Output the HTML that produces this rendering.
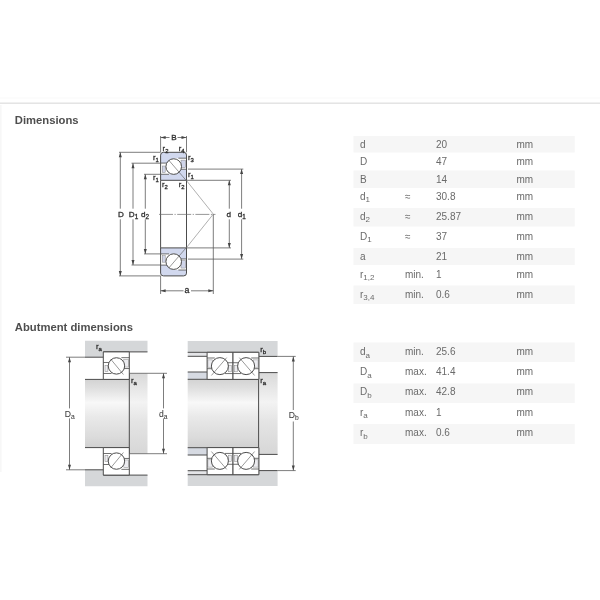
<!DOCTYPE html><html><head><meta charset="utf-8"><style>html,body{margin:0;padding:0;background:#fff;width:600px;height:600px;overflow:hidden}svg{display:block;filter:blur(0.35px)}</style></head><body><svg width="600" height="600" viewBox="0 0 600 600"><defs><linearGradient id="shaft" x1="0" y1="0" x2="0" y2="1"><stop offset="0" stop-color="#d3d3d3"/><stop offset="0.12" stop-color="#dedede"/><stop offset="0.34" stop-color="#f8f8f8"/><stop offset="0.55" stop-color="#e9e9e9"/><stop offset="0.85" stop-color="#dbdbdb"/><stop offset="1" stop-color="#d0d0d0"/></linearGradient><linearGradient id="shoul" x1="0" y1="0" x2="0" y2="1"><stop offset="0" stop-color="#d9d9d9"/><stop offset="0.36" stop-color="#f3f3f3"/><stop offset="0.6" stop-color="#e4e4e4"/><stop offset="1" stop-color="#d7d7d7"/></linearGradient></defs><rect x="0" y="102.6" width="600" height="1.1" fill="#d9d9d9"/><rect x="0" y="97.5" width="600" height="1" fill="#fafafa"/><rect x="0" y="105" width="1.6" height="367" fill="#f7f7f7"/><text x="14.8" y="124.3" font-family="Liberation Sans, sans-serif" font-size="11.25" font-weight="bold" fill="#4e4e4e">Dimensions</text><text x="14.8" y="331.3" font-family="Liberation Sans, sans-serif" font-size="11.25" font-weight="bold" fill="#4e4e4e">Abutment dimensions</text><rect x="353.5" y="136" width="221.20000000000005" height="16.5" fill="#f6f6f6"/><text x="360" y="147.5" font-family="Liberation Sans, sans-serif" font-size="10" fill="#6a6a6a">d</text><text x="436" y="147.5" font-family="Liberation Sans, sans-serif" font-size="10" fill="#6a6a6a">20</text><text x="516.5" y="147.5" font-family="Liberation Sans, sans-serif" font-size="10" fill="#6a6a6a">mm</text><text x="360" y="165" font-family="Liberation Sans, sans-serif" font-size="10" fill="#6a6a6a">D</text><text x="436" y="165" font-family="Liberation Sans, sans-serif" font-size="10" fill="#6a6a6a">47</text><text x="516.5" y="165" font-family="Liberation Sans, sans-serif" font-size="10" fill="#6a6a6a">mm</text><rect x="353.5" y="170.5" width="221.20000000000005" height="17.5" fill="#f6f6f6"/><text x="360" y="182.5" font-family="Liberation Sans, sans-serif" font-size="10" fill="#6a6a6a">B</text><text x="436" y="182.5" font-family="Liberation Sans, sans-serif" font-size="10" fill="#6a6a6a">14</text><text x="516.5" y="182.5" font-family="Liberation Sans, sans-serif" font-size="10" fill="#6a6a6a">mm</text><text x="360" y="199.5" font-family="Liberation Sans, sans-serif" font-size="10" fill="#6a6a6a">d<tspan font-size="8" dy="2.5">1</tspan></text><text x="405" y="199.5" font-family="Liberation Sans, sans-serif" font-size="10" fill="#6a6a6a">≈</text><text x="436" y="199.5" font-family="Liberation Sans, sans-serif" font-size="10" fill="#6a6a6a">30.8</text><text x="516.5" y="199.5" font-family="Liberation Sans, sans-serif" font-size="10" fill="#6a6a6a">mm</text><rect x="353.5" y="208" width="221.20000000000005" height="18.5" fill="#f6f6f6"/><text x="360" y="219.5" font-family="Liberation Sans, sans-serif" font-size="10" fill="#6a6a6a">d<tspan font-size="8" dy="2.5">2</tspan></text><text x="405" y="219.5" font-family="Liberation Sans, sans-serif" font-size="10" fill="#6a6a6a">≈</text><text x="436" y="219.5" font-family="Liberation Sans, sans-serif" font-size="10" fill="#6a6a6a">25.87</text><text x="516.5" y="219.5" font-family="Liberation Sans, sans-serif" font-size="10" fill="#6a6a6a">mm</text><text x="360" y="239.5" font-family="Liberation Sans, sans-serif" font-size="10" fill="#6a6a6a">D<tspan font-size="8" dy="2.5">1</tspan></text><text x="405" y="239.5" font-family="Liberation Sans, sans-serif" font-size="10" fill="#6a6a6a">≈</text><text x="436" y="239.5" font-family="Liberation Sans, sans-serif" font-size="10" fill="#6a6a6a">37</text><text x="516.5" y="239.5" font-family="Liberation Sans, sans-serif" font-size="10" fill="#6a6a6a">mm</text><rect x="353.5" y="248" width="221.20000000000005" height="17" fill="#f6f6f6"/><text x="360" y="259.5" font-family="Liberation Sans, sans-serif" font-size="10" fill="#6a6a6a">a</text><text x="436" y="259.5" font-family="Liberation Sans, sans-serif" font-size="10" fill="#6a6a6a">21</text><text x="516.5" y="259.5" font-family="Liberation Sans, sans-serif" font-size="10" fill="#6a6a6a">mm</text><text x="360" y="277.5" font-family="Liberation Sans, sans-serif" font-size="10" fill="#6a6a6a">r<tspan font-size="8" dy="2.5">1,2</tspan></text><text x="405" y="277.5" font-family="Liberation Sans, sans-serif" font-size="10" fill="#6a6a6a">min.</text><text x="436" y="277.5" font-family="Liberation Sans, sans-serif" font-size="10" fill="#6a6a6a">1</text><text x="516.5" y="277.5" font-family="Liberation Sans, sans-serif" font-size="10" fill="#6a6a6a">mm</text><rect x="353.5" y="285.5" width="221.20000000000005" height="18.5" fill="#f6f6f6"/><text x="360" y="297.5" font-family="Liberation Sans, sans-serif" font-size="10" fill="#6a6a6a">r<tspan font-size="8" dy="2.5">3,4</tspan></text><text x="405" y="297.5" font-family="Liberation Sans, sans-serif" font-size="10" fill="#6a6a6a">min.</text><text x="436" y="297.5" font-family="Liberation Sans, sans-serif" font-size="10" fill="#6a6a6a">0.6</text><text x="516.5" y="297.5" font-family="Liberation Sans, sans-serif" font-size="10" fill="#6a6a6a">mm</text><rect x="353.5" y="342.5" width="221.20000000000005" height="19.5" fill="#f6f6f6"/><text x="360" y="355" font-family="Liberation Sans, sans-serif" font-size="10" fill="#6a6a6a">d<tspan font-size="8" dy="2.5">a</tspan></text><text x="405" y="355" font-family="Liberation Sans, sans-serif" font-size="10" fill="#6a6a6a">min.</text><text x="436" y="355" font-family="Liberation Sans, sans-serif" font-size="10" fill="#6a6a6a">25.6</text><text x="516.5" y="355" font-family="Liberation Sans, sans-serif" font-size="10" fill="#6a6a6a">mm</text><text x="360" y="375" font-family="Liberation Sans, sans-serif" font-size="10" fill="#6a6a6a">D<tspan font-size="8" dy="2.5">a</tspan></text><text x="405" y="375" font-family="Liberation Sans, sans-serif" font-size="10" fill="#6a6a6a">max.</text><text x="436" y="375" font-family="Liberation Sans, sans-serif" font-size="10" fill="#6a6a6a">41.4</text><text x="516.5" y="375" font-family="Liberation Sans, sans-serif" font-size="10" fill="#6a6a6a">mm</text><rect x="353.5" y="383.5" width="221.20000000000005" height="19.5" fill="#f6f6f6"/><text x="360" y="395" font-family="Liberation Sans, sans-serif" font-size="10" fill="#6a6a6a">D<tspan font-size="8" dy="2.5">b</tspan></text><text x="405" y="395" font-family="Liberation Sans, sans-serif" font-size="10" fill="#6a6a6a">max.</text><text x="436" y="395" font-family="Liberation Sans, sans-serif" font-size="10" fill="#6a6a6a">42.8</text><text x="516.5" y="395" font-family="Liberation Sans, sans-serif" font-size="10" fill="#6a6a6a">mm</text><text x="360" y="415.5" font-family="Liberation Sans, sans-serif" font-size="10" fill="#6a6a6a">r<tspan font-size="8" dy="2.5">a</tspan></text><text x="405" y="415.5" font-family="Liberation Sans, sans-serif" font-size="10" fill="#6a6a6a">max.</text><text x="436" y="415.5" font-family="Liberation Sans, sans-serif" font-size="10" fill="#6a6a6a">1</text><text x="516.5" y="415.5" font-family="Liberation Sans, sans-serif" font-size="10" fill="#6a6a6a">mm</text><rect x="353.5" y="424" width="221.20000000000005" height="20" fill="#f6f6f6"/><text x="360" y="436" font-family="Liberation Sans, sans-serif" font-size="10" fill="#6a6a6a">r<tspan font-size="8" dy="2.5">b</tspan></text><text x="405" y="436" font-family="Liberation Sans, sans-serif" font-size="10" fill="#6a6a6a">max.</text><text x="436" y="436" font-family="Liberation Sans, sans-serif" font-size="10" fill="#6a6a6a">0.6</text><text x="516.5" y="436" font-family="Liberation Sans, sans-serif" font-size="10" fill="#6a6a6a">mm</text><g><path d="M160.6,180.3 V155.10000000000002 Q160.6,152.3 163.4,152.3 H183.7 Q186.5,152.3 186.5,155.10000000000002 V180.3 Z" fill="#d1d8ee"/><rect x="160.6" y="163.08" width="13.105400000000003" height="11.199999999999989" fill="#fff"/><rect x="173.7054" y="158.18" width="12.794600000000003" height="11.060000000000002" fill="#fff"/><rect x="162.30" y="166.02" width="2.9" height="6.44" fill="#d0d5ea" stroke="#888" stroke-width="0.5"/><rect x="181.00" y="160.14" width="4.7" height="7.56" fill="#d0d5ea" stroke="#888" stroke-width="0.5"/><line x1="160.60" y1="163.08" x2="167.47" y2="163.08" stroke="#4c4c4c" stroke-width="0.8"/><line x1="178.39" y1="158.18" x2="186.50" y2="158.18" stroke="#4c4c4c" stroke-width="0.8"/><line x1="160.60" y1="174.28" x2="169.03" y2="174.28" stroke="#4c4c4c" stroke-width="0.8"/><line x1="179.95" y1="169.24" x2="186.50" y2="169.24" stroke="#4c4c4c" stroke-width="0.8"/><circle cx="173.71" cy="166.58" r="7.8" fill="#fff" stroke="#4c4c4c" stroke-width="1"/><line x1="168.71" y1="160.11" x2="185.70" y2="179.90" stroke="#555" stroke-width="0.6"/><path d="M160.6,180.3 V155.10000000000002 Q160.6,152.3 163.4,152.3 H183.7 Q186.5,152.3 186.5,155.10000000000002 V180.3 Z" fill="none" stroke="#4c4c4c" stroke-width="1"/></g><g transform="matrix(1,0,0,-1,0,428.2)"><path d="M160.6,180.3 V155.10000000000002 Q160.6,152.3 163.4,152.3 H183.7 Q186.5,152.3 186.5,155.10000000000002 V180.3 Z" fill="#d1d8ee"/><rect x="160.6" y="163.08" width="13.105400000000003" height="11.199999999999989" fill="#fff"/><rect x="173.7054" y="158.18" width="12.794600000000003" height="11.060000000000002" fill="#fff"/><rect x="162.30" y="166.02" width="2.9" height="6.44" fill="#d0d5ea" stroke="#888" stroke-width="0.5"/><rect x="181.00" y="160.14" width="4.7" height="7.56" fill="#d0d5ea" stroke="#888" stroke-width="0.5"/><line x1="160.60" y1="163.08" x2="167.47" y2="163.08" stroke="#4c4c4c" stroke-width="0.8"/><line x1="178.39" y1="158.18" x2="186.50" y2="158.18" stroke="#4c4c4c" stroke-width="0.8"/><line x1="160.60" y1="174.28" x2="169.03" y2="174.28" stroke="#4c4c4c" stroke-width="0.8"/><line x1="179.95" y1="169.24" x2="186.50" y2="169.24" stroke="#4c4c4c" stroke-width="0.8"/><circle cx="173.71" cy="166.58" r="7.8" fill="#fff" stroke="#4c4c4c" stroke-width="1"/><line x1="168.71" y1="160.11" x2="185.70" y2="179.90" stroke="#555" stroke-width="0.6"/><path d="M160.6,180.3 V155.10000000000002 Q160.6,152.3 163.4,152.3 H183.7 Q186.5,152.3 186.5,155.10000000000002 V180.3 Z" fill="none" stroke="#4c4c4c" stroke-width="1"/></g><line x1="160.60" y1="180.30" x2="160.60" y2="247.90" stroke="#4c4c4c" stroke-width="1"/><line x1="186.50" y1="180.30" x2="186.50" y2="247.90" stroke="#4c4c4c" stroke-width="1"/><line x1="159" y1="214.4" x2="215.5" y2="214.4" stroke="#6a6a6a" stroke-width="0.7" stroke-dasharray="14 1.5 1.2 1.5"/><line x1="186.50" y1="180.60" x2="213.30" y2="214.10" stroke="#7a7a7a" stroke-width="0.6"/><line x1="186.50" y1="247.60" x2="213.30" y2="214.10" stroke="#7a7a7a" stroke-width="0.6"/><line x1="119.00" y1="152.30" x2="160.60" y2="152.30" stroke="#5c5c5c" stroke-width="0.8"/><line x1="119.00" y1="275.90" x2="160.60" y2="275.90" stroke="#5c5c5c" stroke-width="0.8"/><line x1="120.30" y1="152.30" x2="120.30" y2="208.70" stroke="#5c5c5c" stroke-width="0.8"/><line x1="120.30" y1="219.30" x2="120.30" y2="275.90" stroke="#5c5c5c" stroke-width="0.8"/><polygon points="120.30,152.30 118.80,157.30 121.80,157.30" fill="#444"/><polygon points="120.30,275.90 118.80,270.90 121.80,270.90" fill="#444"/><line x1="131.50" y1="163.20" x2="160.60" y2="163.20" stroke="#5c5c5c" stroke-width="0.8"/><line x1="131.50" y1="265.00" x2="160.60" y2="265.00" stroke="#5c5c5c" stroke-width="0.8"/><line x1="133.00" y1="163.20" x2="133.00" y2="208.70" stroke="#5c5c5c" stroke-width="0.8"/><line x1="133.00" y1="219.30" x2="133.00" y2="265.00" stroke="#5c5c5c" stroke-width="0.8"/><polygon points="133.00,163.20 131.50,168.20 134.50,168.20" fill="#444"/><polygon points="133.00,265.00 131.50,260.00 134.50,260.00" fill="#444"/><line x1="144.00" y1="174.30" x2="160.60" y2="174.30" stroke="#5c5c5c" stroke-width="0.8"/><line x1="144.00" y1="253.90" x2="160.60" y2="253.90" stroke="#5c5c5c" stroke-width="0.8"/><line x1="145.30" y1="174.30" x2="145.30" y2="208.70" stroke="#5c5c5c" stroke-width="0.8"/><line x1="145.30" y1="219.30" x2="145.30" y2="253.90" stroke="#5c5c5c" stroke-width="0.8"/><polygon points="145.30,174.30 143.80,179.30 146.80,179.30" fill="#444"/><polygon points="145.30,253.90 143.80,248.90 146.80,248.90" fill="#444"/><line x1="186.50" y1="180.30" x2="231.00" y2="180.30" stroke="#5c5c5c" stroke-width="0.8"/><line x1="186.50" y1="247.90" x2="231.00" y2="247.90" stroke="#5c5c5c" stroke-width="0.8"/><line x1="229.30" y1="180.30" x2="229.30" y2="208.70" stroke="#5c5c5c" stroke-width="0.8"/><line x1="229.30" y1="219.30" x2="229.30" y2="247.90" stroke="#5c5c5c" stroke-width="0.8"/><polygon points="229.30,180.30 227.80,185.30 230.80,185.30" fill="#444"/><polygon points="229.30,247.90 227.80,242.90 230.80,242.90" fill="#444"/><line x1="188.00" y1="169.10" x2="243.30" y2="169.10" stroke="#5c5c5c" stroke-width="0.8"/><line x1="188.00" y1="259.10" x2="243.30" y2="259.10" stroke="#5c5c5c" stroke-width="0.8"/><line x1="241.60" y1="169.10" x2="241.60" y2="208.70" stroke="#5c5c5c" stroke-width="0.8"/><line x1="241.60" y1="219.30" x2="241.60" y2="259.10" stroke="#5c5c5c" stroke-width="0.8"/><polygon points="241.60,169.10 240.10,174.10 243.10,174.10" fill="#444"/><polygon points="241.60,259.10 240.10,254.10 243.10,254.10" fill="#444"/><text x="118" y="216.7" font-family="Liberation Sans, sans-serif" font-size="8.1" fill="#2e2e2e" stroke="#2e2e2e" stroke-width="0.3">D</text><text x="128.8" y="216.7" font-family="Liberation Sans, sans-serif" font-size="8.1" fill="#2e2e2e" stroke="#2e2e2e" stroke-width="0.3">D<tspan font-size="6.32" dy="2">1</tspan></text><text x="141" y="216.7" font-family="Liberation Sans, sans-serif" font-size="8.1" fill="#2e2e2e" stroke="#2e2e2e" stroke-width="0.3">d<tspan font-size="6.32" dy="2">2</tspan></text><text x="226.5" y="217" font-family="Liberation Sans, sans-serif" font-size="8.1" fill="#2e2e2e" stroke="#2e2e2e" stroke-width="0.3">d</text><text x="237.8" y="217" font-family="Liberation Sans, sans-serif" font-size="8.1" fill="#2e2e2e" stroke="#2e2e2e" stroke-width="0.3">d<tspan font-size="6.32" dy="2">1</tspan></text><line x1="160.60" y1="136.00" x2="160.60" y2="152.30" stroke="#5c5c5c" stroke-width="0.8"/><line x1="186.50" y1="136.00" x2="186.50" y2="152.30" stroke="#5c5c5c" stroke-width="0.8"/><line x1="160.60" y1="137.50" x2="169.50" y2="137.50" stroke="#5c5c5c" stroke-width="0.8"/><line x1="177.50" y1="137.50" x2="186.50" y2="137.50" stroke="#5c5c5c" stroke-width="0.8"/><polygon points="160.60,137.50 165.60,136.00 165.60,139.00" fill="#444"/><polygon points="186.50,137.50 181.50,136.00 181.50,139.00" fill="#444"/><text x="171.3" y="140.1" font-family="Liberation Sans, sans-serif" font-size="8.1" fill="#2e2e2e" stroke="#2e2e2e" stroke-width="0.3">B</text><line x1="160.60" y1="275.90" x2="160.60" y2="294.00" stroke="#5c5c5c" stroke-width="0.8"/><line x1="213.30" y1="214.10" x2="213.30" y2="294.00" stroke="#5c5c5c" stroke-width="0.8"/><line x1="160.60" y1="290.80" x2="183.50" y2="290.80" stroke="#5c5c5c" stroke-width="0.8"/><line x1="191.00" y1="290.80" x2="213.30" y2="290.80" stroke="#5c5c5c" stroke-width="0.8"/><polygon points="160.60,290.80 165.60,289.30 165.60,292.30" fill="#444"/><polygon points="213.30,290.80 208.30,289.30 208.30,292.30" fill="#444"/><text x="184.5" y="292.6" font-family="Liberation Sans, sans-serif" font-size="8.8" fill="#2e2e2e" stroke="#2e2e2e" stroke-width="0.3">a</text><text x="162.6" y="150.5" font-family="Liberation Sans, sans-serif" font-size="7.6" fill="#2e2e2e" stroke="#2e2e2e" stroke-width="0.3">r<tspan font-size="5.93" dy="2">2</tspan></text><text x="178.8" y="150.5" font-family="Liberation Sans, sans-serif" font-size="7.6" fill="#2e2e2e" stroke="#2e2e2e" stroke-width="0.3">r<tspan font-size="5.93" dy="2">4</tspan></text><text x="153" y="160" font-family="Liberation Sans, sans-serif" font-size="7.6" fill="#2e2e2e" stroke="#2e2e2e" stroke-width="0.3">r<tspan font-size="5.93" dy="2">1</tspan></text><text x="188" y="160" font-family="Liberation Sans, sans-serif" font-size="7.6" fill="#2e2e2e" stroke="#2e2e2e" stroke-width="0.3">r<tspan font-size="5.93" dy="2">3</tspan></text><text x="153" y="180" font-family="Liberation Sans, sans-serif" font-size="7.6" fill="#2e2e2e" stroke="#2e2e2e" stroke-width="0.3">r<tspan font-size="5.93" dy="2">1</tspan></text><text x="188" y="176.8" font-family="Liberation Sans, sans-serif" font-size="7.6" fill="#2e2e2e" stroke="#2e2e2e" stroke-width="0.3">r<tspan font-size="5.93" dy="2">1</tspan></text><text x="162" y="186.5" font-family="Liberation Sans, sans-serif" font-size="7.6" fill="#2e2e2e" stroke="#2e2e2e" stroke-width="0.3">r<tspan font-size="5.93" dy="2">2</tspan></text><text x="178.8" y="186.5" font-family="Liberation Sans, sans-serif" font-size="7.6" fill="#2e2e2e" stroke="#2e2e2e" stroke-width="0.3">r<tspan font-size="5.93" dy="2">2</tspan></text><polygon points="85,340.8 147.5,340.8 147.5,351.9 103.3,351.9 103.3,357.2 85,357.2" fill="#d5d7d9"/><line x1="103.30" y1="351.90" x2="147.50" y2="351.90" stroke="#4c4c4c" stroke-width="1"/><line x1="85.00" y1="357.20" x2="103.30" y2="357.20" stroke="#4c4c4c" stroke-width="1"/><polygon points="85,486.2 147.5,486.2 147.5,475.1 103.3,475.1 103.3,469.8 85,469.8" fill="#d5d7d9"/><line x1="103.30" y1="475.10" x2="147.50" y2="475.10" stroke="#4c4c4c" stroke-width="1"/><line x1="85.00" y1="469.80" x2="103.30" y2="469.80" stroke="#4c4c4c" stroke-width="1"/><rect x="85" y="379.4" width="44.3" height="68.20000000000005" fill="url(#shaft)"/><rect x="129.3" y="373.3" width="18.2" height="80.39999999999998" fill="url(#shoul)"/><line x1="85.00" y1="379.40" x2="129.30" y2="379.40" stroke="#4c4c4c" stroke-width="1"/><line x1="85.00" y1="447.60" x2="129.30" y2="447.60" stroke="#4c4c4c" stroke-width="1"/><line x1="129.30" y1="373.30" x2="129.30" y2="453.70" stroke="#4c4c4c" stroke-width="1"/><line x1="129.30" y1="373.30" x2="167.00" y2="373.30" stroke="#5c5c5c" stroke-width="0.8"/><line x1="129.30" y1="453.70" x2="167.00" y2="453.70" stroke="#5c5c5c" stroke-width="0.8"/><g><path d="M103.3,379.4 V351.9 Q103.3,351.9 103.3,351.9 H129.3 Q129.3,351.9 129.3,351.9 V379.4 Z" fill="#fff"/><rect x="105.00" y="365.38" width="2.9" height="6.33" fill="#ececf0" stroke="#888" stroke-width="0.5"/><rect x="123.80" y="359.60" width="4.7" height="7.43" fill="#ececf0" stroke="#888" stroke-width="0.5"/><line x1="103.30" y1="362.49" x2="109.90" y2="362.49" stroke="#4c4c4c" stroke-width="0.8"/><line x1="121.38" y1="357.67" x2="129.30" y2="357.67" stroke="#4c4c4c" stroke-width="0.8"/><line x1="103.30" y1="373.49" x2="111.54" y2="373.49" stroke="#4c4c4c" stroke-width="0.8"/><line x1="123.02" y1="368.54" x2="129.30" y2="368.54" stroke="#4c4c4c" stroke-width="0.8"/><circle cx="116.46" cy="365.92" r="8.2" fill="#fff" stroke="#4c4c4c" stroke-width="1"/><line x1="110.63" y1="359.04" x2="123.43" y2="374.53" stroke="#555" stroke-width="0.6"/><path d="M103.3,379.4 V351.9 Q103.3,351.9 103.3,351.9 H129.3 Q129.3,351.9 129.3,351.9 V379.4 Z" fill="none" stroke="#4c4c4c" stroke-width="1"/></g><g transform="matrix(1,0,0,-1,0,827.0)"><path d="M103.3,379.4 V351.9 Q103.3,351.9 103.3,351.9 H129.3 Q129.3,351.9 129.3,351.9 V379.4 Z" fill="#fff"/><rect x="105.00" y="365.38" width="2.9" height="6.33" fill="#ececf0" stroke="#888" stroke-width="0.5"/><rect x="123.80" y="359.60" width="4.7" height="7.43" fill="#ececf0" stroke="#888" stroke-width="0.5"/><line x1="103.30" y1="362.49" x2="109.90" y2="362.49" stroke="#4c4c4c" stroke-width="0.8"/><line x1="121.38" y1="357.67" x2="129.30" y2="357.67" stroke="#4c4c4c" stroke-width="0.8"/><line x1="103.30" y1="373.49" x2="111.54" y2="373.49" stroke="#4c4c4c" stroke-width="0.8"/><line x1="123.02" y1="368.54" x2="129.30" y2="368.54" stroke="#4c4c4c" stroke-width="0.8"/><circle cx="116.46" cy="365.92" r="8.2" fill="#fff" stroke="#4c4c4c" stroke-width="1"/><line x1="110.63" y1="359.04" x2="123.43" y2="374.53" stroke="#555" stroke-width="0.6"/><path d="M103.3,379.4 V351.9 Q103.3,351.9 103.3,351.9 H129.3 Q129.3,351.9 129.3,351.9 V379.4 Z" fill="none" stroke="#4c4c4c" stroke-width="1"/></g><line x1="66.00" y1="357.20" x2="85.00" y2="357.20" stroke="#5c5c5c" stroke-width="0.8"/><line x1="66.00" y1="469.80" x2="85.00" y2="469.80" stroke="#5c5c5c" stroke-width="0.8"/><line x1="69.50" y1="357.20" x2="69.50" y2="408.40" stroke="#5c5c5c" stroke-width="0.8"/><line x1="69.50" y1="418.40" x2="69.50" y2="469.80" stroke="#5c5c5c" stroke-width="0.8"/><polygon points="69.50,357.20 68.00,362.20 71.00,362.20" fill="#444"/><polygon points="69.50,469.80 68.00,464.80 71.00,464.80" fill="#444"/><text x="64.8" y="417" font-family="Liberation Sans, sans-serif" font-size="8.6" fill="#3a3a3a" stroke="#3a3a3a" stroke-width="0.05">D<tspan font-size="6.71" dy="2">a</tspan></text><line x1="163.50" y1="373.30" x2="163.50" y2="408.40" stroke="#5c5c5c" stroke-width="0.8"/><line x1="163.50" y1="418.40" x2="163.50" y2="453.70" stroke="#5c5c5c" stroke-width="0.8"/><polygon points="163.50,373.30 162.00,378.30 165.00,378.30" fill="#444"/><polygon points="163.50,453.70 162.00,448.70 165.00,448.70" fill="#444"/><text x="159" y="417" font-family="Liberation Sans, sans-serif" font-size="8.6" fill="#3a3a3a" stroke="#3a3a3a" stroke-width="0.05">d<tspan font-size="6.71" dy="2">a</tspan></text><text x="96" y="348.6" font-family="Liberation Sans, sans-serif" font-size="7.8" fill="#2e2e2e" stroke="#2e2e2e" stroke-width="0.3">r<tspan font-size="6.08" dy="2">a</tspan></text><text x="131" y="383.2" font-family="Liberation Sans, sans-serif" font-size="7.8" fill="#2e2e2e" stroke="#2e2e2e" stroke-width="0.3">r<tspan font-size="6.08" dy="2">a</tspan></text><polygon points="187.7,341 277.6,341 277.6,356.4 258.6,356.4 258.6,352.3 187.7,352.3" fill="#d5d7d9"/><rect x="187.7" y="352.3" width="19.3" height="4" fill="#e4e5e8"/><rect x="187.7" y="372" width="19.3" height="7.3" fill="#d6dae2"/><line x1="187.70" y1="352.30" x2="258.60" y2="352.30" stroke="#4c4c4c" stroke-width="1"/><line x1="187.70" y1="356.30" x2="207.00" y2="356.30" stroke="#4c4c4c" stroke-width="1"/><line x1="187.70" y1="372.00" x2="207.00" y2="372.00" stroke="#4c4c4c" stroke-width="1"/><line x1="258.60" y1="356.40" x2="277.60" y2="356.40" stroke="#4c4c4c" stroke-width="1"/><polygon points="187.7,486.0 277.6,486.0 277.6,470.6 258.6,470.6 258.6,474.7 187.7,474.7" fill="#d5d7d9"/><rect x="187.7" y="470.7" width="19.3" height="4" fill="#e4e5e8"/><rect x="187.7" y="447.7" width="19.3" height="7.3" fill="#d6dae2"/><line x1="187.70" y1="474.70" x2="258.60" y2="474.70" stroke="#4c4c4c" stroke-width="1"/><line x1="187.70" y1="470.70" x2="207.00" y2="470.70" stroke="#4c4c4c" stroke-width="1"/><line x1="187.70" y1="455.00" x2="207.00" y2="455.00" stroke="#4c4c4c" stroke-width="1"/><line x1="258.60" y1="470.60" x2="277.60" y2="470.60" stroke="#4c4c4c" stroke-width="1"/><rect x="187.7" y="379.3" width="70.9" height="68.39999999999998" fill="url(#shaft)"/><rect x="258.6" y="372.6" width="19" height="81.79999999999995" fill="url(#shoul)"/><line x1="187.70" y1="379.30" x2="258.60" y2="379.30" stroke="#4c4c4c" stroke-width="1"/><line x1="187.70" y1="447.70" x2="258.60" y2="447.70" stroke="#4c4c4c" stroke-width="1"/><line x1="258.60" y1="352.30" x2="258.60" y2="474.70" stroke="#4c4c4c" stroke-width="1"/><line x1="258.60" y1="372.60" x2="277.60" y2="372.60" stroke="#4c4c4c" stroke-width="1"/><line x1="258.60" y1="454.40" x2="277.60" y2="454.40" stroke="#4c4c4c" stroke-width="1"/><g transform="matrix(-1,0,0,1,440.09999999999997,0)"><path d="M207.1,379.40000000000003 V352.3 Q207.1,352.3 207.1,352.3 H233.0 Q233.0,352.3 233.0,352.3 V379.40000000000003 Z" fill="#fff"/><rect x="208.80" y="365.58" width="2.9" height="6.23" fill="#ececf0" stroke="#888" stroke-width="0.5"/><rect x="227.50" y="359.89" width="4.7" height="7.32" fill="#ececf0" stroke="#888" stroke-width="0.5"/><line x1="207.10" y1="362.73" x2="213.41" y2="362.73" stroke="#4c4c4c" stroke-width="0.8"/><line x1="225.31" y1="357.99" x2="233.00" y2="357.99" stroke="#4c4c4c" stroke-width="0.8"/><line x1="207.10" y1="373.57" x2="215.11" y2="373.57" stroke="#4c4c4c" stroke-width="0.8"/><line x1="227.01" y1="368.70" x2="233.00" y2="368.70" stroke="#4c4c4c" stroke-width="0.8"/><circle cx="220.21" cy="366.12" r="8.5" fill="#fff" stroke="#4c4c4c" stroke-width="1"/><line x1="213.41" y1="357.62" x2="228.71" y2="375.47" stroke="#555" stroke-width="0.6"/><path d="M207.1,379.40000000000003 V352.3 Q207.1,352.3 207.1,352.3 H233.0 Q233.0,352.3 233.0,352.3 V379.40000000000003 Z" fill="none" stroke="#4c4c4c" stroke-width="1"/></g><g><path d="M233,379.40000000000003 V352.3 Q233,352.3 233,352.3 H258.9 Q258.9,352.3 258.9,352.3 V379.40000000000003 Z" fill="#fff"/><rect x="234.70" y="365.58" width="2.9" height="6.23" fill="#ececf0" stroke="#888" stroke-width="0.5"/><rect x="253.40" y="359.89" width="4.7" height="7.32" fill="#ececf0" stroke="#888" stroke-width="0.5"/><line x1="233.00" y1="362.73" x2="239.31" y2="362.73" stroke="#4c4c4c" stroke-width="0.8"/><line x1="251.21" y1="357.99" x2="258.90" y2="357.99" stroke="#4c4c4c" stroke-width="0.8"/><line x1="233.00" y1="373.57" x2="241.01" y2="373.57" stroke="#4c4c4c" stroke-width="0.8"/><line x1="252.91" y1="368.70" x2="258.90" y2="368.70" stroke="#4c4c4c" stroke-width="0.8"/><circle cx="246.11" cy="366.12" r="8.5" fill="#fff" stroke="#4c4c4c" stroke-width="1"/><line x1="239.31" y1="357.62" x2="254.61" y2="375.47" stroke="#555" stroke-width="0.6"/><path d="M233,379.40000000000003 V352.3 Q233,352.3 233,352.3 H258.9 Q258.9,352.3 258.9,352.3 V379.40000000000003 Z" fill="none" stroke="#4c4c4c" stroke-width="1"/></g><g transform="matrix(1,0,0,-1,0,827.0) matrix(-1,0,0,1,440.09999999999997,0)"><path d="M207.1,379.40000000000003 V352.3 Q207.1,352.3 207.1,352.3 H233.0 Q233.0,352.3 233.0,352.3 V379.40000000000003 Z" fill="#fff"/><rect x="208.80" y="365.58" width="2.9" height="6.23" fill="#ececf0" stroke="#888" stroke-width="0.5"/><rect x="227.50" y="359.89" width="4.7" height="7.32" fill="#ececf0" stroke="#888" stroke-width="0.5"/><line x1="207.10" y1="362.73" x2="213.41" y2="362.73" stroke="#4c4c4c" stroke-width="0.8"/><line x1="225.31" y1="357.99" x2="233.00" y2="357.99" stroke="#4c4c4c" stroke-width="0.8"/><line x1="207.10" y1="373.57" x2="215.11" y2="373.57" stroke="#4c4c4c" stroke-width="0.8"/><line x1="227.01" y1="368.70" x2="233.00" y2="368.70" stroke="#4c4c4c" stroke-width="0.8"/><circle cx="220.21" cy="366.12" r="8.5" fill="#fff" stroke="#4c4c4c" stroke-width="1"/><line x1="213.41" y1="357.62" x2="228.71" y2="375.47" stroke="#555" stroke-width="0.6"/><path d="M207.1,379.40000000000003 V352.3 Q207.1,352.3 207.1,352.3 H233.0 Q233.0,352.3 233.0,352.3 V379.40000000000003 Z" fill="none" stroke="#4c4c4c" stroke-width="1"/></g><g transform="matrix(1,0,0,-1,0,827.0)"><path d="M233,379.40000000000003 V352.3 Q233,352.3 233,352.3 H258.9 Q258.9,352.3 258.9,352.3 V379.40000000000003 Z" fill="#fff"/><rect x="234.70" y="365.58" width="2.9" height="6.23" fill="#ececf0" stroke="#888" stroke-width="0.5"/><rect x="253.40" y="359.89" width="4.7" height="7.32" fill="#ececf0" stroke="#888" stroke-width="0.5"/><line x1="233.00" y1="362.73" x2="239.31" y2="362.73" stroke="#4c4c4c" stroke-width="0.8"/><line x1="251.21" y1="357.99" x2="258.90" y2="357.99" stroke="#4c4c4c" stroke-width="0.8"/><line x1="233.00" y1="373.57" x2="241.01" y2="373.57" stroke="#4c4c4c" stroke-width="0.8"/><line x1="252.91" y1="368.70" x2="258.90" y2="368.70" stroke="#4c4c4c" stroke-width="0.8"/><circle cx="246.11" cy="366.12" r="8.5" fill="#fff" stroke="#4c4c4c" stroke-width="1"/><line x1="239.31" y1="357.62" x2="254.61" y2="375.47" stroke="#555" stroke-width="0.6"/><path d="M233,379.40000000000003 V352.3 Q233,352.3 233,352.3 H258.9 Q258.9,352.3 258.9,352.3 V379.40000000000003 Z" fill="none" stroke="#4c4c4c" stroke-width="1"/></g><line x1="277.60" y1="356.40" x2="295.70" y2="356.40" stroke="#5c5c5c" stroke-width="0.8"/><line x1="277.60" y1="470.60" x2="295.70" y2="470.60" stroke="#5c5c5c" stroke-width="0.8"/><line x1="293.30" y1="356.40" x2="293.30" y2="410.00" stroke="#5c5c5c" stroke-width="0.8"/><line x1="293.30" y1="421.50" x2="293.30" y2="470.60" stroke="#5c5c5c" stroke-width="0.8"/><polygon points="293.30,356.40 291.80,361.40 294.80,361.40" fill="#444"/><polygon points="293.30,470.60 291.80,465.60 294.80,465.60" fill="#444"/><text x="288.8" y="418.2" font-family="Liberation Sans, sans-serif" font-size="8.6" fill="#3a3a3a" stroke="#3a3a3a" stroke-width="0.05">D<tspan font-size="6.71" dy="2">b</tspan></text><text x="260.2" y="352" font-family="Liberation Sans, sans-serif" font-size="7.8" fill="#2e2e2e" stroke="#2e2e2e" stroke-width="0.3">r<tspan font-size="6.08" dy="2">b</tspan></text><text x="260.2" y="382.6" font-family="Liberation Sans, sans-serif" font-size="7.8" fill="#2e2e2e" stroke="#2e2e2e" stroke-width="0.3">r<tspan font-size="6.08" dy="2">a</tspan></text></svg></body></html>
